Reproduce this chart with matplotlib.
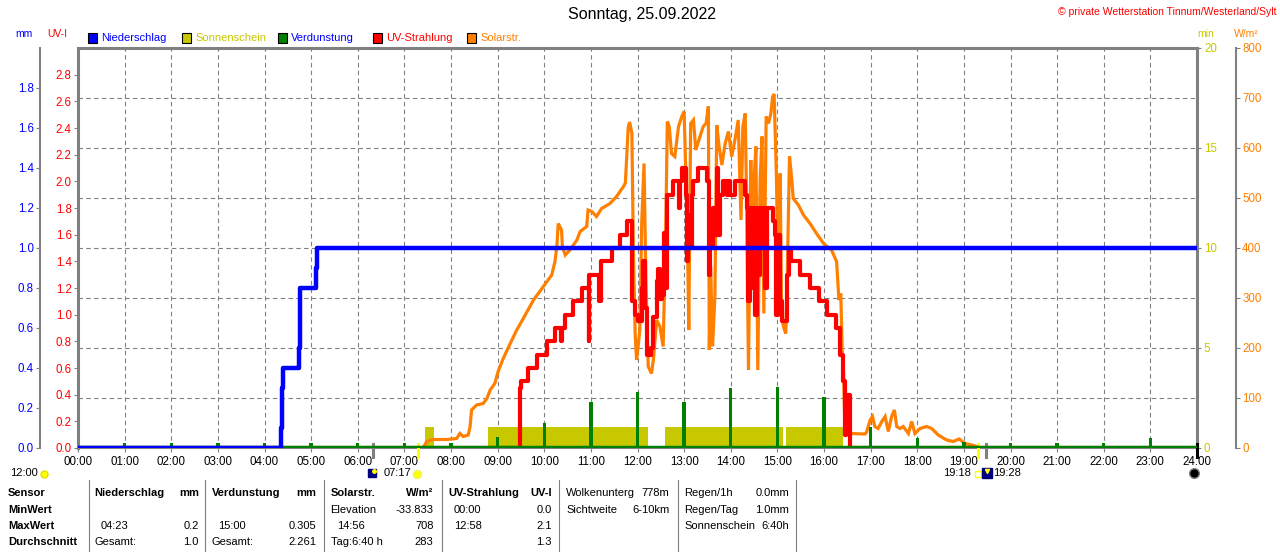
import matplotlib
matplotlib.use('Agg')
import matplotlib.pyplot as plt
import matplotlib.transforms as mtransforms
from matplotlib.lines import Line2D
from matplotlib.patches import Rectangle

plt.rcParams['font.family'] = ['Liberation Sans', 'DejaVu Sans']

# ---- data ----
hour_labels = ['%02d:00' % h for h in range(25)]

# Niederschlag, cumulative mm (steps)
rain = [(0, 0.0), (4.35, 0.0), (4.36, 0.1), (4.38, 0.3), (4.40, 0.4), (4.72, 0.4),
        (4.74, 0.5), (4.76, 0.7), (4.77, 0.8), (5.10, 0.8), (5.11, 0.9), (5.12, 1.0),
        (24, 1.0)]

# Verdunstung per hour, mm
evap_hours = list(range(1, 24))
evap_mm = [0.025, 0.025, 0.025, 0.025, 0.025, 0.025, 0.027, 0.027, 0.053, 0.127,
           0.23, 0.28, 0.23, 0.30, 0.305, 0.257, 0.107, 0.05, 0.03, 0.025, 0.025,
           0.025, 0.05]

# Sonnenschein blocks, min
sun_start = [7.44, 8.80, 12.59, 15.19]
sun_end = [7.64, 12.23, 15.11, 16.40]
sun_min = [1.05, 1.05, 1.05, 1.05]

# UV-Strahlung, UV index (steps)
uv = [(0, 0), (9.47, 0), (9.48, 0.45), (9.50, 0.50), (9.66, 0.60), (9.84, 0.70),
      (10.05, 0.80), (10.24, 0.90), (10.36, 0.80), (10.39, 0.90), (10.45, 1.00),
      (10.61, 1.10), (10.82, 1.20), (10.95, 0.80), (10.97, 1.30), (11.18, 1.10),
      (11.21, 1.40), (11.45, 1.50), (11.63, 1.60), (11.77, 1.70), (11.88, 1.10),
      (11.95, 1.00), (12.02, 0.95), (12.09, 1.20), (12.12, 1.40), (12.16, 1.05),
      (12.20, 0.70), (12.30, 0.75), (12.34, 0.98), (12.41, 1.25), (12.45, 1.34),
      (12.48, 1.12), (12.53, 1.15), (12.57, 1.61), (12.60, 1.20), (12.63, 1.90),
      (12.77, 2.00), (12.89, 1.80), (12.91, 2.00), (12.96, 2.10), (13.03, 1.90),
      (13.06, 1.40), (13.09, 1.75), (13.13, 1.50), (13.16, 1.90), (13.20, 2.00),
      (13.30, 2.10), (13.50, 2.00), (13.53, 1.30), (13.56, 1.70), (13.59, 1.50),
      (13.63, 1.80), (13.66, 1.60), (13.70, 2.10), (13.73, 1.60), (13.77, 1.90),
      (13.84, 2.00), (13.91, 1.90), (13.95, 2.00), (13.98, 1.90), (14.09, 2.00),
      (14.31, 1.90), (14.34, 1.80), (14.38, 1.10), (14.41, 1.80), (14.45, 1.20),
      (14.48, 1.80), (14.52, 1.00), (14.56, 1.80), (14.59, 1.30), (14.63, 1.80),
      (14.66, 1.50), (14.70, 1.80), (14.73, 1.20), (14.77, 1.80), (14.91, 1.70),
      (14.95, 1.60), (14.98, 1.00), (15.02, 1.60), (15.06, 1.10), (15.09, 0.95),
      (15.21, 1.30), (15.24, 1.50), (15.30, 1.40), (15.49, 1.30), (15.70, 1.20),
      (15.89, 1.10), (16.06, 1.00), (16.26, 0.90), (16.34, 0.70), (16.40, 0.50),
      (16.46, 0.10), (16.48, 0.40), (16.56, 0), (24, 0)]

# Solarstrahlung, W/m2
solar = [(0, 0), (7.40, 0), (7.48, 13), (7.62, 17), (7.91, 17), (8.12, 19), (8.19, 29),
         (8.26, 23), (8.37, 26), (8.41, 43), (8.44, 76), (8.55, 86), (8.69, 89),
         (8.77, 99), (8.84, 116), (8.94, 129), (9.01, 153), (9.12, 179), (9.27, 209),
         (9.41, 236), (9.55, 259), (9.77, 296), (9.98, 323), (10.16, 346), (10.23, 373),
         (10.27, 403), (10.30, 449), (10.37, 436), (10.39, 403), (10.45, 386),
         (10.55, 396), (10.70, 416), (10.77, 433), (10.91, 443), (10.94, 476),
         (11.02, 473), (11.12, 463), (11.23, 479), (11.41, 489), (11.55, 503),
         (11.70, 523), (11.74, 530), (11.77, 583), (11.80, 640), (11.83, 652),
         (11.88, 629), (11.91, 403), (11.95, 229), (11.98, 176), (12.02, 209),
         (12.05, 236), (12.09, 449), (12.14, 569), (12.18, 336), (12.23, 163),
         (12.30, 149), (12.34, 176), (12.41, 256), (12.48, 243), (12.55, 203),
         (12.60, 403), (12.64, 653), (12.68, 643), (12.73, 589), (12.80, 583),
         (12.88, 643), (12.95, 663), (13.00, 673), (13.04, 536), (13.08, 363),
         (13.10, 236), (13.14, 649), (13.20, 656), (13.25, 596), (13.34, 623),
         (13.41, 643), (13.47, 649), (13.52, 683), (13.54, 196), (13.57, 363),
         (13.61, 203), (13.66, 303), (13.70, 646), (13.75, 603), (13.81, 566),
         (13.88, 609), (13.95, 633), (14.02, 583), (14.09, 616), (14.16, 656),
         (14.22, 456), (14.26, 643), (14.31, 669), (14.34, 496), (14.38, 156),
         (14.43, 576), (14.46, 403), (14.50, 536), (14.54, 603), (14.58, 156),
         (14.63, 536), (14.67, 623), (14.71, 269), (14.76, 663), (14.81, 649),
         (14.86, 669), (14.90, 703), (14.93, 708), (14.98, 543), (15.02, 303),
         (15.06, 549), (15.09, 269), (15.13, 243), (15.18, 229), (15.21, 336),
         (15.26, 583), (15.31, 536), (15.34, 499), (15.45, 486), (15.56, 466),
         (15.70, 449), (15.84, 429), (15.99, 409), (16.16, 396), (16.27, 373),
         (16.32, 296), (16.36, 309), (16.39, 196), (16.42, 149), (16.45, 30),
         (16.56, 29), (16.88, 28), (16.91, 31), (16.99, 56), (17.04, 63), (17.09, 43),
         (17.16, 39), (17.24, 53), (17.31, 63), (17.38, 33), (17.45, 63), (17.51, 76),
         (17.56, 43), (17.63, 39), (17.70, 43), (17.81, 29), (17.88, 53), (17.95, 29),
         (18.06, 39), (18.20, 43), (18.31, 39), (18.45, 26), (18.63, 16), (18.77, 13),
         (18.90, 18), (19.02, 9), (19.17, 6), (19.27, 3), (19.32, 0), (24, 0)]

# dawn, sunrise, sunset, dusk, midnight markers under the axis
event_hours = [6.33, 7.283, 19.30, 19.467, 24.0]
event_colors = ['#808080', '#ffff00', '#ffff00', '#808080', 'black']

# stats table below the chart
row_labels = ['Sensor', 'MinWert', 'MaxWert', 'Durchschnitt']
tbl_cols = [
    # (x_left, x_right, header_left, header_right, [(left, right) per row])
    (94.7, 198.8, 'Niederschlag', 'mm', [('', ''), ('04:23', '0.2'), ('Gesamt:', '1.0')]),
    (212, 316.3, 'Verdunstung', 'mm', [('', ''), ('15:00', '0.305'), ('Gesamt:', '2.261')]),
    (330.6, 433.5, 'Solarstr.', 'W/m²', [('Elevation', '-33.833'), ('14:56', '708'), ('Tag:6:40 h', '283')]),
    (448, 551.8, 'UV-Strahlung', 'UV-I', [('00:00', '0.0'), ('12:58', '2.1'), ('', '1.3')]),
]
info_left = [('Wolkenunterg', '778m'), ('Sichtweite', '6-10km')]
info_right = [('Regen/1h', '0.0mm'), ('Regen/Tag', '1.0mm'), ('Sonnenschein', '6:40h')]

# ---- colours ----
BLUE = '#0000ff'
OLIVE = '#c8c800'
GREEN = '#008000'
RED = '#ff0000'
ORANGE = '#ff8000'
GRAY = '#808080'

W, H = 1280, 552


def fx(x):
    return x / W


def fy(y):
    return 1 - y / H


fig = plt.figure(figsize=(12.8, 5.52), dpi=100)
ax = fig.add_axes([fx(78), fy(448), 1119 / W, 400 / H])
ax_sol = ax.twinx()
ax_uv = ax.twinx()
ax_mm = ax.twinx()

ax.set_xlim(0, 24)
ax.set_ylim(0, 20)
ax_sol.set_ylim(0, 800)
ax_uv.set_ylim(0, 3.0)
ax_mm.set_ylim(0, 2.0)

# grid
for h in range(1, 24):
    ax.axvline(h, color=GRAY, lw=0.8, dashes=(4, 3), zorder=0)
for v in [2.5, 5, 7.5, 10, 12.5, 15, 17.5]:
    ax.axhline(v, color=GRAY, lw=0.8, dashes=(4, 3), zorder=0)

# Sonnenschein
ax.bar(sun_start, sun_min, width=[e - s for s, e in zip(sun_start, sun_end)],
       align='edge', color=OLIVE, lw=0, zorder=1)

# Solar
sx, sy = zip(*solar)
ax_sol.plot(sx, sy, color=ORANGE, lw=2.3, solid_joinstyle='miter')

# UV
ux, uy = zip(*uv)
ax_uv.plot(ux, uy, color=RED, lw=3.0, drawstyle='steps-post')

# Verdunstung
ax_mm.axhline(0, color=GREEN, lw=3.2)
ax_mm.bar(evap_hours, evap_mm, width=0.07, color=GREEN, lw=0)

# Niederschlag
rx, ry = zip(*rain)
ax_mm.plot(rx, ry, color=BLUE, lw=3.2, drawstyle='steps-post')

# ---- axes styling ----
for a in (ax_sol, ax_uv, ax_mm):
    for s in a.spines.values():
        s.set_visible(False)
for side in ('top', 'left', 'right'):
    ax.spines[side].set_color(GRAY)
    ax.spines[side].set_linewidth(2.2)
ax.spines['bottom'].set_color(GRAY)
ax.spines['bottom'].set_linewidth(1.5)

ax.set_xticks(range(25))
ax.set_xticklabels(hour_labels)
ax.tick_params(axis='x', length=3, color=GRAY, pad=3, labelsize=8.3)

ax.yaxis.tick_right()
ax.set_yticks([0, 5, 10, 15, 20])
ax.tick_params(axis='y', right=True, left=False, length=3, color=GRAY, pad=2,
               labelsize=8.3, labelcolor=OLIVE)

ax_sol.spines['right'].set_visible(True)
ax_sol.spines['right'].set_position(('outward', 39 * 0.72))
ax_sol.spines['right'].set_color(GRAY)
ax_sol.spines['right'].set_linewidth(1.5)
ax_sol.set_yticks(range(0, 801, 100))
ax_sol.tick_params(axis='y', length=3, color=GRAY, pad=1.5, labelsize=8.3,
                   labelcolor=ORANGE)

ax_uv.yaxis.set_ticks_position('left')
ax_uv.yaxis.set_label_position('left')
ax_uv.set_yticks([i / 5 for i in range(15)])
ax_uv.set_yticklabels(['%.1f' % (i / 5) for i in range(15)])
ax_uv.tick_params(axis='y', length=3, color=GRAY, pad=1.5, labelsize=8.3,
                  labelcolor=RED)

ax_mm.yaxis.set_ticks_position('left')
ax_mm.yaxis.set_label_position('left')
ax_mm.spines['left'].set_visible(True)
ax_mm.spines['left'].set_position(('outward', 38 * 0.72))
ax_mm.spines['left'].set_color(GRAY)
ax_mm.spines['left'].set_linewidth(1.5)
ax_mm.set_yticks([i / 5 for i in range(10)])
ax_mm.set_yticklabels(['%.1f' % (i / 5) for i in range(10)])
ax_mm.tick_params(axis='y', length=3, color=GRAY, pad=1.5, labelsize=8.3,
                  labelcolor=BLUE)

# event markers below the time axis
trans = mtransforms.blended_transform_factory(ax.transData, ax.transAxes)
for h, c in zip(event_hours, event_colors):
    ax.plot([h, h], [0.01, -0.0225], transform=trans, color=c, lw=2.2,
            clip_on=False, zorder=5)

# ---- texts ----
fig.text(fx(642), fy(15), 'Sonntag, 25.09.2022', ha='center', va='center', fontsize=11.5)
fig.text(fx(1276), fy(12), '© private Wetterstation Tinnum/Westerland/Sylt', ha='right',
         va='center', fontsize=7.5, color=RED)

fig.text(fx(15), fy(34), 'mm', color=BLUE, fontsize=7.5, va='center')
fig.text(fx(47), fy(34), 'UV-I', color=RED, fontsize=7.5, va='center')
fig.text(fx(1197), fy(34), 'min', color=OLIVE, fontsize=7.5, va='center')
fig.text(fx(1234), fy(34), 'W/m²', color=ORANGE, fontsize=7.5, va='center')

legend_items = [('Niederschlag', BLUE, BLUE, 88), ('Sonnenschein', OLIVE, OLIVE, 182),
                ('Verdunstung', GREEN, BLUE, 277.5), ('UV-Strahlung', RED, RED, 373),
                ('Solarstr.', ORANGE, ORANGE, 467)]
for name, fc, tc, x0 in legend_items:
    fig.patches.append(Rectangle((fx(x0), fy(43)), 9 / W, 10 / H, transform=fig.transFigure,
                                 fc=fc, ec='black', lw=0.8, figure=fig))
    fig.text(fx(x0 + 13), fy(38), name, color=tc, fontsize=8, va='center')

# sun / twilight icons under the time axis
fig.text(fx(10), fy(473), '12:00', fontsize=8, va='center')
fig.text(fx(383.7), fy(473), '07:17', fontsize=8, va='center')
fig.text(fx(971), fy(473), '19:18', fontsize=8, va='center', ha='right')
fig.text(fx(993), fy(473), '19:28', fontsize=8, va='center')


def icon(x, y, **kw):
    fig.add_artist(Line2D([fx(x)], [fy(y)], transform=fig.transFigure, **kw))


icon(43.5, 474, marker='o', ms=5, mfc='#ffff00', mec='#e0e000', lw=0)
icon(372, 473, marker='s', ms=6, mfc='#000080', mec='#000080', lw=0)
icon(374, 471, marker='o', ms=2.5, mfc='#ffff00', mec='#ffff00', lw=0)
icon(417, 474, marker='o', ms=6, mfc='#ffff00', mec='#f0f080', lw=0)
icon(978, 474, marker='s', ms=4.5, mfc='none', mec='#ffff00', lw=0)
icon(986.5, 473, marker='s', ms=7, mfc='#000080', mec='#000080', lw=0)
icon(986.5, 471, marker='v', ms=3, mfc='#ffff00', mec='#ffff00', lw=0)
icon(1194, 473, marker='o', ms=7, mfc='black', mec=GRAY, lw=0)

# ---- stats table ----
row_y = [493, 510, 526, 542]
for y, label in zip(row_y, row_labels):
    fig.text(fx(8), fy(y), label, fontsize=8, fontweight='bold', va='center')
for xl, xr, hl, hr, rows in tbl_cols:
    fig.text(fx(xl), fy(row_y[0]), hl, fontsize=8, fontweight='bold', va='center')
    fig.text(fx(xr), fy(row_y[0]), hr, fontsize=8, fontweight='bold', va='center', ha='right')
    for y, (tl, tr) in zip(row_y[1:], rows):
        offs = 6 if tl[:2].isdigit() else 0
        fig.text(fx(xl + offs), fy(y), tl, fontsize=8, va='center')
        fig.text(fx(xr), fy(y), tr, fontsize=8, va='center', ha='right')
for y, (tl, tr) in zip(row_y, info_left):
    fig.text(fx(566), fy(y), tl, fontsize=8, va='center')
    fig.text(fx(669.4), fy(y), tr, fontsize=8, va='center', ha='right')
for y, (tl, tr) in zip(row_y, info_right):
    fig.text(fx(684), fy(y), tl, fontsize=8, va='center')
    fig.text(fx(789), fy(y), tr, fontsize=8, va='center', ha='right')
for xs in [88.6, 205, 323.7, 441.6, 559, 678, 795.5]:
    fig.add_artist(Line2D([fx(xs), fx(xs)], [fy(480), fy(552)], transform=fig.transFigure,
                          color=GRAY, lw=0.8))

fig.savefig('out.png', dpi=100)
